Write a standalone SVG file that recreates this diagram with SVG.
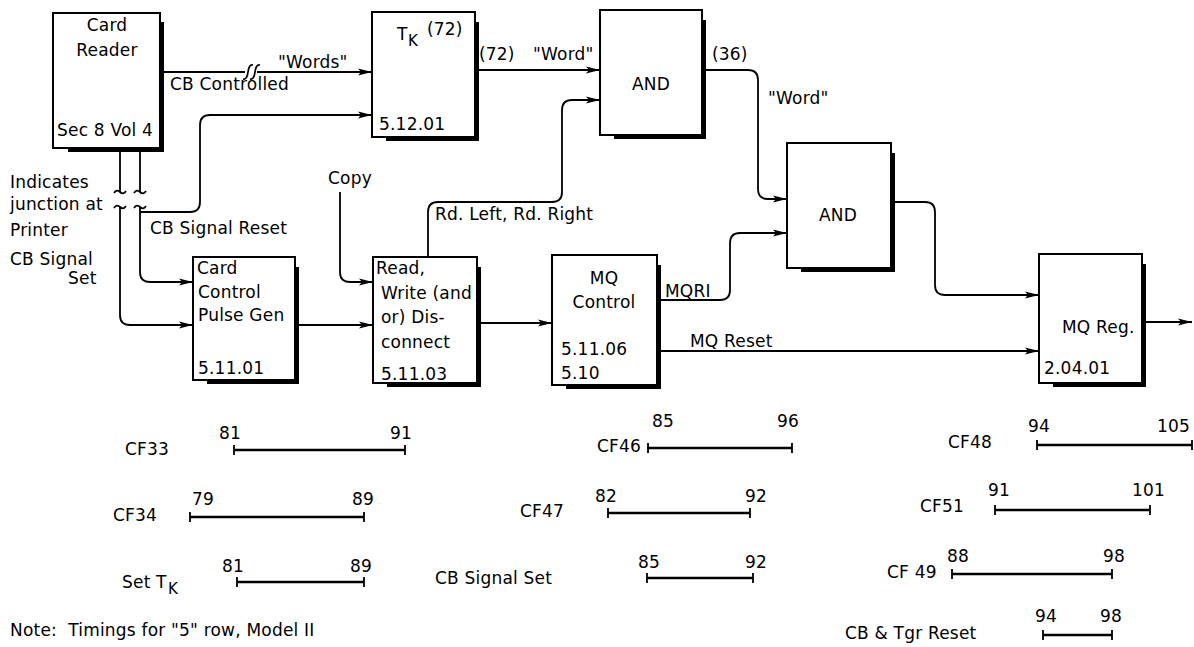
<svg xmlns="http://www.w3.org/2000/svg" width="1194" height="647" viewBox="0 0 1194 647">
<defs>
<marker id="ah" markerUnits="userSpaceOnUse" markerWidth="15" markerHeight="8" refX="14" refY="4" orient="auto">
<path d="M0,0.5 L14,4 L0,7.5 L3,4 Z" fill="#000"/>
</marker>
</defs>
<style>
text{font-family:"DejaVu Sans","Liberation Sans",sans-serif;font-size:17px;fill:#000;letter-spacing:0.2px}
.box{fill:#fff;stroke:#000;stroke-width:2}
.sh{fill:none;stroke:#000;stroke-width:3}
.c{fill:none;stroke:#000;stroke-width:1.8}
.a{marker-end:url(#ah)}
.bar{fill:none;stroke:#000;stroke-width:2.5}
.tk{fill:none;stroke:#000;stroke-width:1.8}
.m{text-anchor:middle}
.sub{font-size:15px}
</style>
<rect width="1194" height="647" fill="#fff"/>

<g id="card-reader">
<rect class="box" x="53" y="13" width="107" height="135"/>
<path class="sh" d="M162.5,22 V150.5 H68"/>
<text class="m" x="107" y="31">Card</text>
<text class="m" x="107" y="56">Reader</text>
<text x="57" y="136">Sec 8 Vol 4</text>
</g>

<g id="tk">
<rect class="box" x="372" y="12" width="103" height="125"/>
<path class="sh" d="M477.5,22 V139.5 H386"/>
<text x="397" y="40">T</text><text class="sub" x="408" y="46">K</text>
<text x="427" y="35">(72)</text>
<text x="379" y="130">5.12.01</text>
</g>

<g id="and1">
<rect class="box" x="600" y="10" width="102" height="125"/>
<path class="sh" d="M704.5,20 V137.5 H614"/>
<text class="m" x="651" y="90">AND</text>
</g>

<g id="and2">
<rect class="box" x="787" y="143" width="104" height="125"/>
<path class="sh" d="M893.5,153 V270.5 H801"/>
<text class="m" x="838" y="221">AND</text>
</g>

<g id="card-control">
<rect class="box" x="193" y="257" width="102" height="123"/>
<path class="sh" d="M297.5,267 V382.5 H207"/>
<text x="197" y="274">Card</text>
<text x="198" y="298">Control</text>
<text x="198" y="321">Pulse Gen</text>
<text x="198" y="374">5.11.01</text>
</g>

<g id="read-write">
<rect class="box" x="373" y="257" width="104" height="126"/>
<path class="sh" d="M479.5,267 V385.5 H387"/>
<text x="376" y="274">Read,</text>
<text x="381" y="299">Write (and</text>
<text x="381" y="323">or) Dis-</text>
<text x="381" y="348">connect</text>
<text x="381" y="380">5.11.03</text>
</g>

<g id="mq-control">
<rect class="box" x="552" y="255" width="105" height="130"/>
<path class="sh" d="M659.5,265 V387.5 H566"/>
<text class="m" x="604" y="284">MQ</text>
<text class="m" x="604" y="308">Control</text>
<text x="561" y="355">5.11.06</text>
<text x="561" y="379">5.10</text>
</g>

<g id="mq-reg">
<rect class="box" x="1039" y="254" width="103" height="129"/>
<path class="sh" d="M1144.5,264 V385.5 H1053"/>
<text x="1062" y="333">MQ Reg.</text>
<text x="1044" y="374">2.04.01</text>
</g>

<g id="connectors">
<path class="c" d="M160,72 H245"/>
<path class="c a" d="M257,72 H372"/>
<path class="c" d="M243,79 Q247,80 248,72 Q249,64 253,65"/>
<path class="c" d="M250,79 Q254,80 255,72 Q256,64 260,65"/>
<path class="c" d="M120,148 V192 M140,148 V192"/>
<path class="c" d="M114,193 c2,-3 4,-3 6,-1 s4,2 6,-1 M134,193 c2,-3 4,-3 6,-1 s4,2 6,-1"/>
<path class="c" d="M114,208 c2,-3 4,-3 6,-1 s4,2 6,-1 M134,208 c2,-3 4,-3 6,-1 s4,2 6,-1"/>
<path class="c a" d="M120,207 V315 Q120,325 130,325 H193"/>
<path class="c a" d="M140,207 V272 Q140,282 150,282 H193"/>
<path class="c a" d="M140,212 H190 Q200,212 200,202 V125 Q200,115 210,115 H372"/>
<path class="c a" d="M295,325 H373"/>
<path class="c a" d="M340,192 V272 Q340,282 350,282 H373"/>
<path class="c a" d="M428,257 V212 Q428,202 438,202 H552 Q562,202 562,192 V110 Q562,100 572,100 H600"/>
<path class="c a" d="M477,323 H552"/>
<path class="c a" d="M475,70 H600"/>
<path class="c a" d="M702,70 H748 Q758,70 758,80 V189 Q758,199 768,199 H787"/>
<path class="c a" d="M657,300 H720 Q730,300 730,290 V243 Q730,233 740,233 H787"/>
<path class="c a" d="M657,351 H1039"/>
<path class="c a" d="M891,202 H925 Q935,202 935,212 V285 Q935,295 945,295 H1039"/>
<path class="c a" d="M1142,322 H1192"/>
</g>

<g id="labels">
<text x="278" y="68">"Words"</text>
<text x="170" y="90">CB Controlled</text>
<text x="479" y="60">(72)</text>
<text x="533" y="60">"Word"</text>
<text x="712" y="60">(36)</text>
<text x="768" y="104">"Word"</text>
<text x="328" y="184">Copy</text>
<text x="435" y="220">Rd. Left, Rd. Right</text>
<text x="665" y="297">MQRI</text>
<text x="690" y="347">MQ Reset</text>
<text x="10" y="188">Indicates</text>
<text x="10" y="210">junction at</text>
<text x="10" y="236">Printer</text>
<text x="10" y="265">CB Signal</text>
<text x="68" y="284">Set</text>
<text x="150" y="234">CB Signal Reset</text>
</g>

<g id="timings">
<text x="125" y="455">CF33</text>
<text x="219" y="439">81</text><text x="390" y="439">91</text>
<path class="bar" d="M234,450 H405"/><path class="tk" d="M234,445 V455 M405,445 V455"/>

<text x="113" y="521">CF34</text>
<text x="192" y="505">79</text><text x="352" y="505">89</text>
<path class="bar" d="M190,517 H364"/><path class="tk" d="M190,512 V522 M364,512 V522"/>

<text x="122" y="588">Set T</text><text class="sub" x="168" y="594">K</text>
<text x="222" y="572">81</text><text x="350" y="572">89</text>
<path class="bar" d="M237,582 H364"/><path class="tk" d="M237,577 V587 M364,577 V587"/>

<text x="597" y="452">CF46</text>
<text x="652" y="427">85</text><text x="777" y="427">96</text>
<path class="bar" d="M648,448 H792"/><path class="tk" d="M648,443 V453 M792,443 V453"/>

<text x="520" y="517">CF47</text>
<text x="595" y="502">82</text><text x="745" y="502">92</text>
<path class="bar" d="M608,513 H750"/><path class="tk" d="M608,508 V518 M750,508 V518"/>

<text x="435" y="584">CB Signal Set</text>
<text x="638" y="568">85</text><text x="745" y="568">92</text>
<path class="bar" d="M647,578 H753"/><path class="tk" d="M647,573 V583 M753,573 V583"/>

<text x="948" y="448">CF48</text>
<text x="1028" y="432">94</text><text x="1157" y="432">105</text>
<path class="bar" d="M1037,445 H1192"/><path class="tk" d="M1037,440 V450 M1192,440 V450"/>

<text x="920" y="512">CF51</text>
<text x="988" y="496">91</text><text x="1132" y="496">101</text>
<path class="bar" d="M995,510 H1150"/><path class="tk" d="M995,505 V515 M1150,505 V515"/>

<text x="887" y="578">CF 49</text>
<text x="947" y="562">88</text><text x="1103" y="562">98</text>
<path class="bar" d="M952,574 H1112"/><path class="tk" d="M952,569 V579 M1112,569 V579"/>

<text x="845" y="639">CB &amp; Tgr Reset</text>
<text x="1035" y="622">94</text><text x="1100" y="622">98</text>
<path class="bar" d="M1043,635 H1112"/><path class="tk" d="M1043,630 V640 M1112,630 V640"/>

<text x="10" y="636" xml:space="preserve">Note:  Timings for "5" row, Model II</text>
</g>
</svg>
